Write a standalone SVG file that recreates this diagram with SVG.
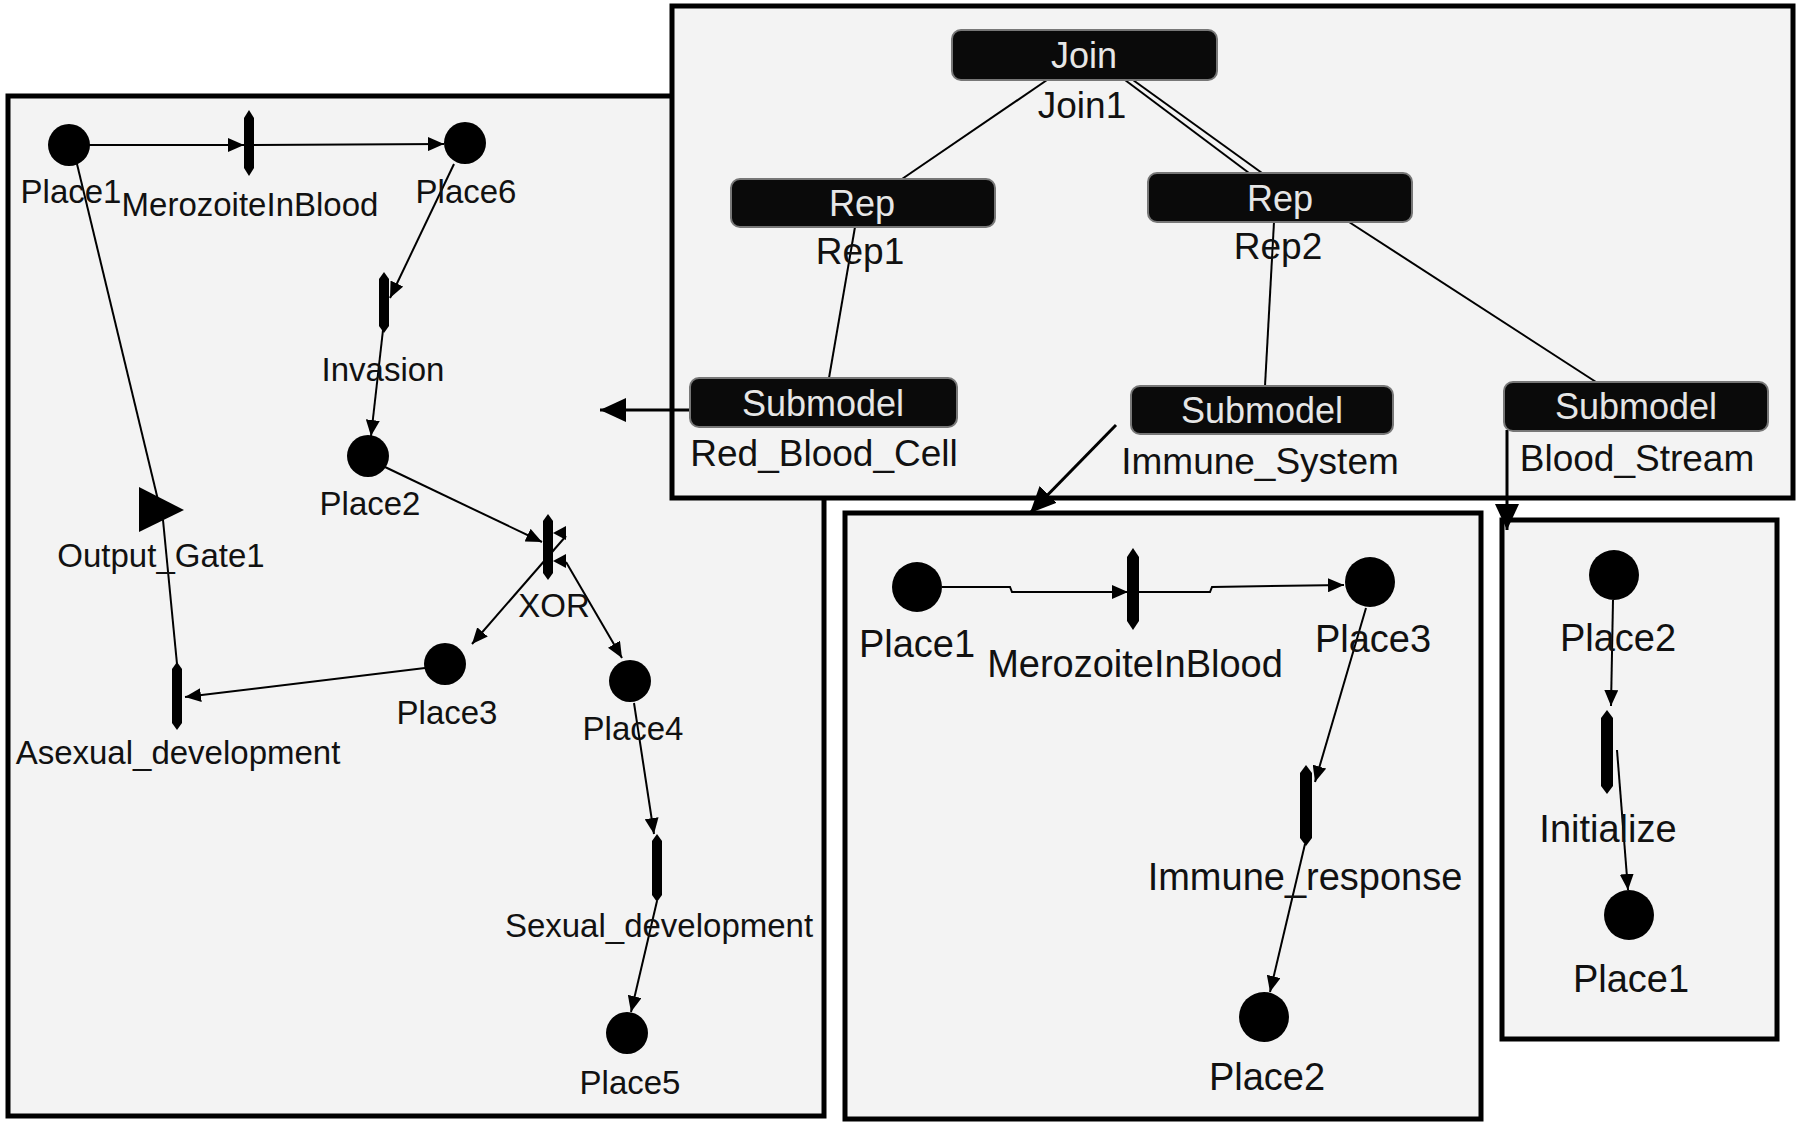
<svg xmlns="http://www.w3.org/2000/svg" width="1800" height="1123" viewBox="0 0 1800 1123">
<defs>
<marker id="a" markerUnits="userSpaceOnUse" markerWidth="16" markerHeight="14" refX="16" refY="7" orient="auto"><path d="M0,0 L16,7 L0,14 z" fill="#000"/></marker>
<marker id="A" markerUnits="userSpaceOnUse" markerWidth="26" markerHeight="24" refX="26" refY="12" orient="auto"><path d="M0,0 L26,12 L0,24 z" fill="#000"/></marker>
</defs>
<style>
.box{fill:#f3f3f3;stroke:#000;stroke-width:5}
.e{stroke:#000;stroke-width:2;fill:none}
.ea{stroke:#000;stroke-width:2;fill:none;marker-end:url(#a)}
.eA{stroke:#000;stroke-width:3;fill:none;marker-end:url(#A)}
.pl{fill:#000}
.tr{fill:#000}
.nd{fill:#0a0a0a;stroke:#777;stroke-width:2}
.nt{font-family:"Liberation Sans",Arial,sans-serif;font-size:36px;fill:#e6e6e6;text-anchor:middle}
.t1{font-family:"Liberation Sans",Arial,sans-serif;font-size:33px;fill:#111;text-anchor:middle}
.t2{font-family:"Liberation Sans",Arial,sans-serif;font-size:38px;fill:#111;text-anchor:middle}
.t3{font-family:"Liberation Sans",Arial,sans-serif;font-size:37px;fill:#111;text-anchor:middle}
</style>
<rect width="1800" height="1123" fill="#fff"/>
<g id="frames">
<rect class="box" x="8" y="96" width="816" height="1020"/>
<rect class="box" x="672" y="6" width="1121" height="492"/>
<rect class="box" x="845" y="513" width="636" height="606"/>
<rect class="box" x="1502" y="520" width="275" height="519"/>
</g>
<g id="connectors">
<!-- top box -->
<line class="e" x1="1047" y1="80" x2="902" y2="179"/>
<line class="e" x1="1125" y1="80" x2="1249" y2="173"/>
<line class="e" x1="1133" y1="80" x2="1262" y2="173"/>
<line class="e" x1="855" y1="227" x2="829" y2="378"/>
<line class="e" x1="1274" y1="222" x2="1265" y2="386"/>
<line class="e" x1="1349" y1="222" x2="1596" y2="382"/>
<line class="eA" x1="690" y1="410" x2="600" y2="410"/>
<line class="eA" x1="1116" y1="425" x2="1030" y2="513"/>
<line class="eA" x1="1507" y1="430" x2="1507" y2="530"/>
<!-- left box -->
<line class="ea" x1="89" y1="145" x2="244" y2="145"/>
<line class="ea" x1="253" y1="145" x2="444" y2="144"/>
<line class="ea" x1="454" y1="164" x2="390" y2="298"/>
<line class="ea" x1="383" y1="330" x2="371" y2="436"/>
<line class="ea" x1="385" y1="467" x2="542" y2="542"/>
<line class="ea" x1="566" y1="536" x2="472" y2="644"/>
<line class="ea" x1="566" y1="562" x2="622" y2="658"/>
<line class="ea" x1="425" y1="668" x2="185" y2="697"/>
<line class="e" x1="77" y1="164" x2="158" y2="500"/>
<line class="e" x1="163" y1="520" x2="177" y2="664"/>
<line class="ea" x1="634" y1="703" x2="654" y2="834"/>
<line class="ea" x1="657" y1="901" x2="631" y2="1012"/>
<!-- bottom middle -->
<polyline class="ea" points="942,587 1010,587 1012,592 1128,592"/>
<polyline class="ea" points="1138,592 1210,592 1212,587 1344,585"/>
<line class="ea" x1="1366" y1="608" x2="1315" y2="782"/>
<line class="ea" x1="1305" y1="844" x2="1270" y2="992"/>
<!-- bottom right -->
<line class="ea" x1="1613" y1="600" x2="1611" y2="706"/>
<line class="ea" x1="1617" y1="750" x2="1628" y2="890"/>
</g>
<g id="join1"><rect class="nd" x="952" y="30" width="265" height="50" rx="9"/><text class="nt" x="1084" y="68">Join</text><text class="t3" x="1082" y="118">Join1</text></g>
<g id="rep1"><rect class="nd" x="731" y="179" width="264" height="48" rx="9"/><text class="nt" x="862" y="216">Rep</text><text class="t3" x="860" y="264">Rep1</text></g>
<g id="rep2"><rect class="nd" x="1148" y="173" width="264" height="49" rx="9"/><text class="nt" x="1280" y="211">Rep</text><text class="t3" x="1278" y="259">Rep2</text></g>
<g id="sub-rbc"><rect class="nd" x="690" y="378" width="267" height="49" rx="9"/><text class="nt" x="823" y="416">Submodel</text><text class="t3" x="824" y="466">Red_Blood_Cell</text></g>
<g id="sub-immune"><rect class="nd" x="1131" y="386" width="262" height="48" rx="9"/><text class="nt" x="1262" y="423">Submodel</text><text class="t3" x="1260" y="474">Immune_System</text></g>
<g id="sub-blood"><rect class="nd" x="1504" y="382" width="264" height="49" rx="9"/><text class="nt" x="1636" y="419">Submodel</text><text class="t3" x="1637" y="471">Blood_Stream</text></g>
<!-- left box nodes -->
<g id="l-place1"><circle class="pl" cx="69" cy="145" r="21"/><text class="t1" x="71" y="203">Place1</text></g>
<g id="l-merozoite"><path class="tr" d="M249,110 L254,118 L254,168 L249,176 L244,168 L244,118 z"/><text class="t1" x="250" y="216">MerozoiteInBlood</text></g>
<g id="l-place6"><circle class="pl" cx="465" cy="143" r="21"/><text class="t1" x="466" y="203">Place6</text></g>
<g id="l-invasion"><path class="tr" d="M384,272 L389,279 L389,326 L384,333 L379,326 L379,279 z"/><text class="t1" x="383" y="381">Invasion</text></g>
<g id="l-place2"><circle class="pl" cx="368" cy="456" r="21"/><text class="t1" x="370" y="515">Place2</text></g>
<g id="l-xor"><path class="tr" d="M548,514 L553,521 L553,573 L548,580 L543,573 L543,521 z"/><path class="tr" d="M553,533 L566,526 L566,540 z"/><path class="tr" d="M553,561 L566,554 L566,568 z"/><text class="t1" x="554" y="617">XOR</text></g>
<g id="l-gate"><path class="tr" d="M139,487 L184,510 L139,532 z"/><text class="t1" x="161" y="567">Output_Gate1</text></g>
<g id="l-place3"><circle class="pl" cx="445" cy="664" r="21"/><text class="t1" x="447" y="724">Place3</text></g>
<g id="l-asexual"><path class="tr" d="M177,662 L182,669 L182,723 L177,730 L172,723 L172,669 z"/><text class="t1" x="178" y="764">Asexual_development</text></g>
<g id="l-place4"><circle class="pl" cx="630" cy="681" r="21"/><text class="t1" x="633" y="740">Place4</text></g>
<g id="l-sexual"><path class="tr" d="M657,834 L662,841 L662,895 L657,902 L652,895 L652,841 z"/><text class="t1" x="659" y="937">Sexual_development</text></g>
<g id="l-place5"><circle class="pl" cx="627" cy="1033" r="21"/><text class="t1" x="630" y="1094">Place5</text></g>
<!-- bottom middle nodes -->
<g id="m-place1"><circle class="pl" cx="917" cy="587" r="25"/><text class="t2" x="917" y="657">Place1</text></g>
<g id="m-merozoite"><path class="tr" d="M1133,548 L1139,557 L1139,621 L1133,630 L1127,621 L1127,557 z"/><text class="t2" x="1135" y="677">MerozoiteInBlood</text></g>
<g id="m-place3"><circle class="pl" cx="1370" cy="582" r="25"/><text class="t2" x="1373" y="652">Place3</text></g>
<g id="m-immune"><path class="tr" d="M1306,765 L1312,773 L1312,838 L1306,846 L1300,838 L1300,773 z"/><text class="t2" x="1305" y="890">Immune_response</text></g>
<g id="m-place2"><circle class="pl" cx="1264" cy="1017" r="25"/><text class="t2" x="1267" y="1090">Place2</text></g>
<!-- bottom right nodes -->
<g id="r-place2"><circle class="pl" cx="1614" cy="575" r="25"/><text class="t2" x="1618" y="651">Place2</text></g>
<g id="r-initialize"><path class="tr" d="M1607,710 L1613,718 L1613,786 L1607,794 L1601,786 L1601,718 z"/><text class="t2" x="1608" y="842">Initialize</text></g>
<g id="r-place1"><circle class="pl" cx="1629" cy="915" r="25"/><text class="t2" x="1631" y="992">Place1</text></g>
</svg>
